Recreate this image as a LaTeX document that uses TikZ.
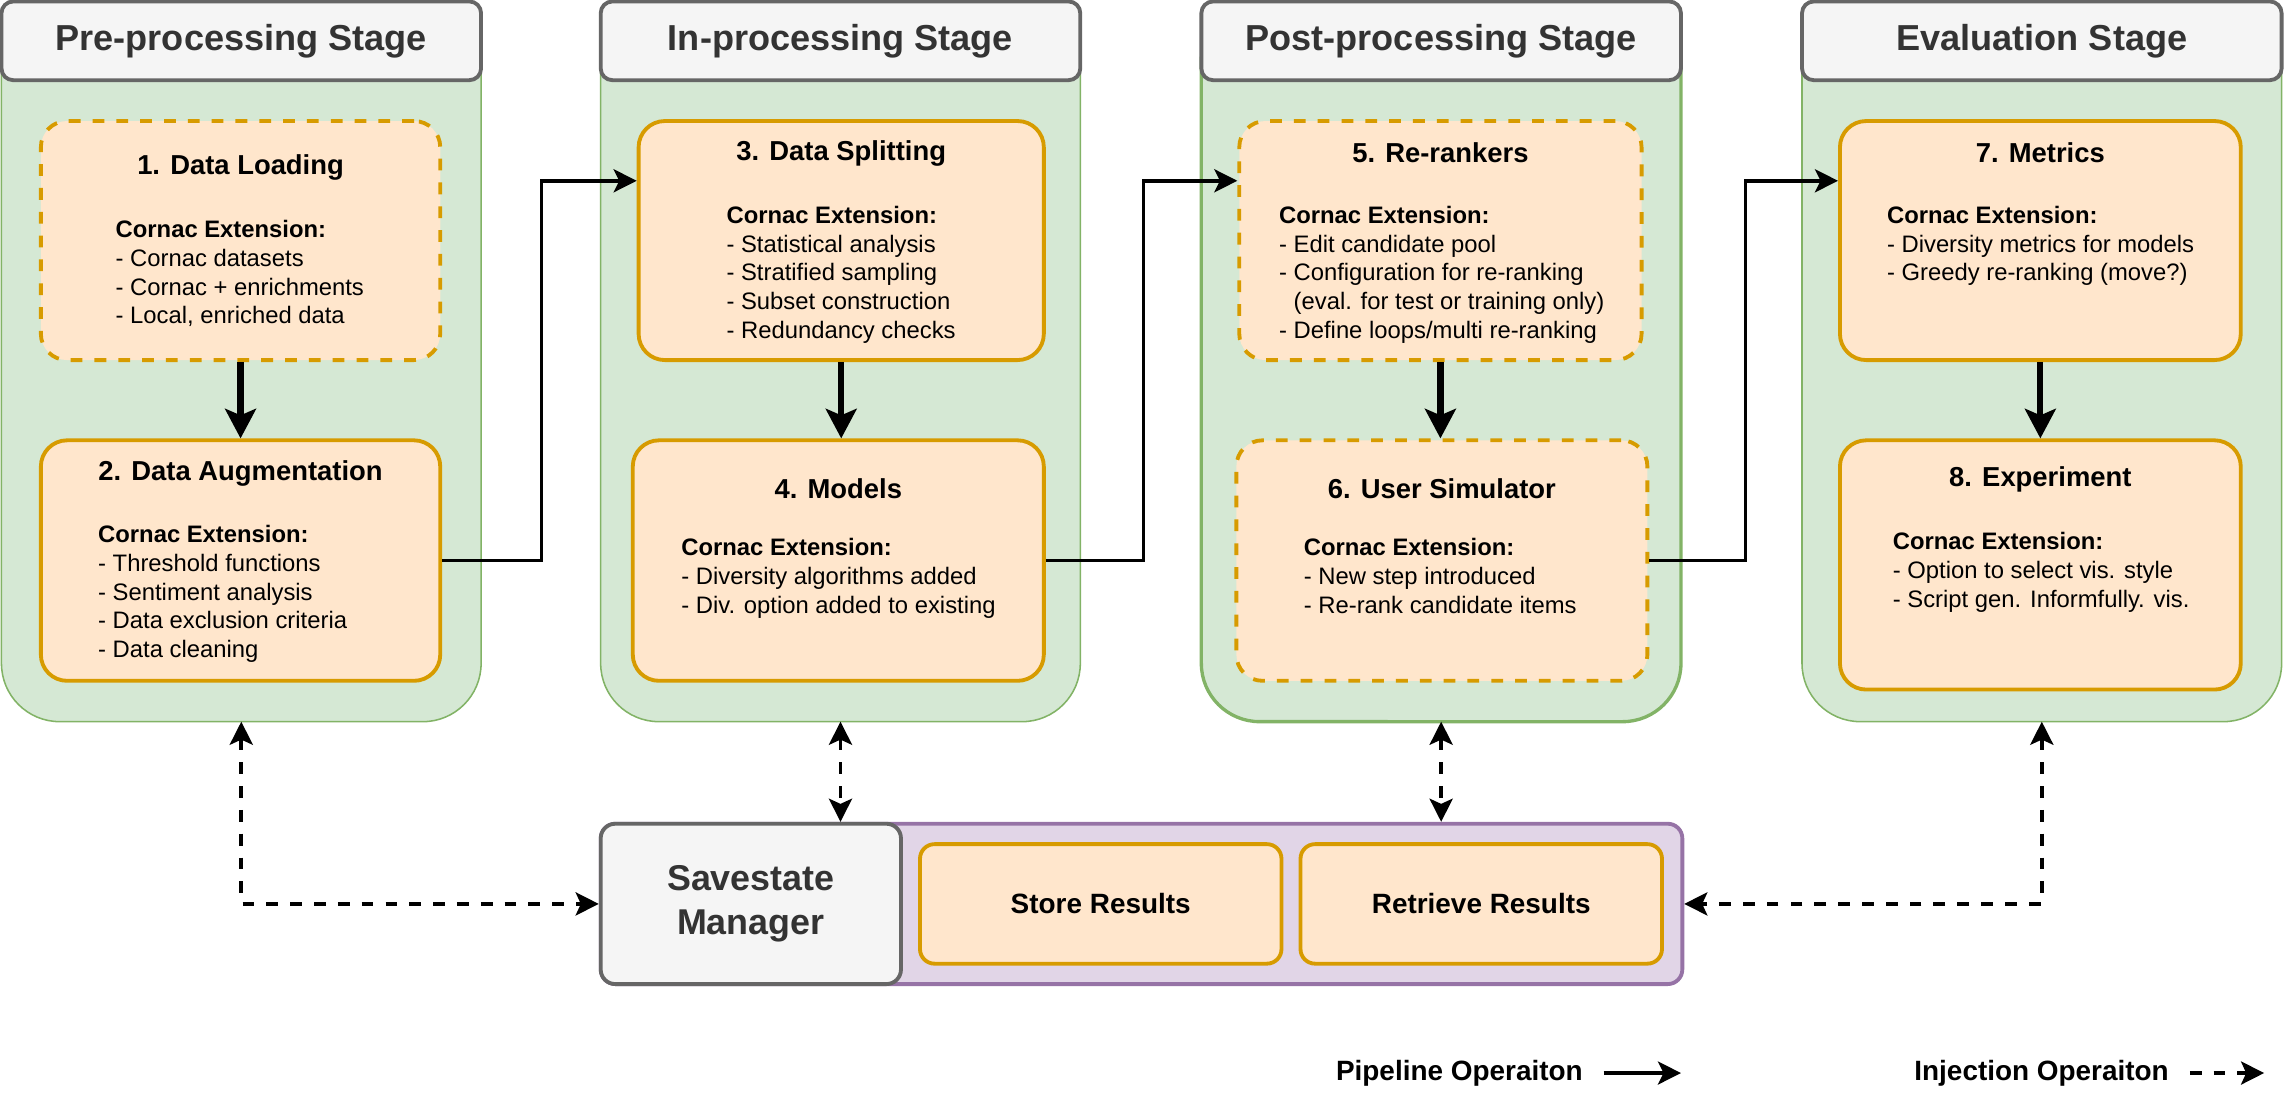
\documentclass[tikz,border=0pt]{standalone}
\usepackage{fontspec}
\setmainfont{Liberation Sans}
\usetikzlibrary{arrows.meta,calc}

\definecolor{stagefill}{HTML}{D5E8D4}
\definecolor{stageline}{HTML}{82B366}
\definecolor{headfill}{HTML}{F5F5F5}
\definecolor{headline}{HTML}{666666}
\definecolor{headtext}{HTML}{333333}
\definecolor{boxfill}{HTML}{FFE6CC}
\definecolor{boxline}{HTML}{D79B00}
\definecolor{savefill}{HTML}{E1D5E7}
\definecolor{saveline}{HTML}{9673A6}

\begin{document}
\begin{tikzpicture}[x=0.02cm,y=-0.02cm,
  stagebody/.style={fill=stagefill,draw=stageline},
  stagehead/.style={draw=headline,fill=headfill,text=headtext,line width=1.5pt,rounded corners=0.16cm,minimum width=6.58cm,minimum height=1.08cm,font=\bfseries\fontsize{14.1}{17}\selectfont},
  stepbox/.style={draw=boxline,fill=boxfill,line width=1.5pt,rounded corners=0.36cm},
  optbox/.style={stepbox,dash pattern=on 4.6pt off 4.7pt},
  steptitle/.style={font=\bfseries\fontsize{10.7}{13}\selectfont},
  steptext/.style={anchor=north west,inner sep=0pt,align=left,font=\fontsize{9.3}{11.2}\selectfont},
  pipe/.style={-{Stealth[length=9pt,width=9pt,inset=2.2pt]},line width=1.4pt},
  bigpipe/.style={-{Stealth[length=11.5pt,width=12pt,inset=2.5pt]},line width=2.4pt},
  inject/.style={{Stealth[length=9pt,width=9pt,inset=2pt]}-{Stealth[length=9pt,width=9pt,inset=2pt]},line width=1.5pt,dash pattern=on 4.6pt off 4.7pt},
  legendinject/.style={-{Stealth[length=9pt,width=9pt,inset=2pt]},line width=1.5pt,dash pattern=on 4.6pt off 4.7pt},
  legendtxt/.style={anchor=east,inner xsep=8pt,font=\bfseries\fontsize{10.9}{13}\selectfont}
]
\useasboundingbox (0,0) rectangle (1568,757);

% stages
\foreach \l/\n/\lw/\txt in {1/1/0.6pt/Pre-processing Stage,412/2/0.6pt/In-processing Stage,824/3/1.3pt/Post-processing Stage,1236/4/0.6pt/Evaluation Stage}{
  \draw[stagebody,line width=\lw] (\l,40) -- (\l,455) arc[start angle=180,end angle=270,radius=0.8cm] -- (\l+289,495) arc[start angle=270,end angle=360,radius=0.8cm] -- (\l+329,40) -- cycle;
  \coordinate (g\n) at (\l+164.5,495);
  \node[stagehead] (h\n) at (\l+164.5,28) {\txt};
}

% steps
\node[optbox,minimum width=5.48cm,minimum height=3.28cm] (b1) at (165,165) {};
\node[stepbox,minimum width=5.48cm,minimum height=3.3cm] (b2) at (165,384.5) {};
\node[stepbox,minimum width=5.56cm,minimum height=3.28cm] (b3) at (577,165) {};
\node[stepbox,minimum width=5.64cm,minimum height=3.3cm] (b4) at (575,384.5) {};
\node[optbox,minimum width=5.52cm,minimum height=3.28cm] (b5) at (988,165) {};
\node[optbox,minimum width=5.64cm,minimum height=3.3cm] (b6) at (989,384.5) {};
\node[stepbox,minimum width=5.5cm,minimum height=3.28cm] (b7) at (1399.5,165) {};
\node[stepbox,minimum width=5.5cm,minimum height=3.42cm] (b8) at (1399.5,387.5) {};

\node[steptitle] (t1) at (165,115) {1. Data Loading};
\node[steptitle] (t2) at (165,325) {2. Data Augmentation};
\node[steptitle] (t3) at (577,105) {3. Data Splitting};
\node[steptitle] (t4) at (575,335) {4. Models};
\node[steptitle] (t5) at (988,105) {5. Re-rankers};
\node[steptitle] (t6) at (989,335) {6. User Simulator};
\node[steptitle] (t7) at (1399.5,105) {7. Metrics};
\node[steptitle] (t8) at (1399.5,329) {8. Experiment};

\node[steptext] (c1) at (79,151) {\textbf{Cornac Extension:}\\- Cornac datasets\\- Cornac + enrichments\\- Local, enriched data};
\node[steptext] (c2) at (67,360) {\textbf{Cornac Extension:}\\- Threshold functions\\- Sentiment analysis\\- Data exclusion criteria\\- Data cleaning};
\node[steptext] (c3) at (498,141) {\textbf{Cornac Extension:}\\- Statistical analysis\\- Stratified sampling\\- Subset construction\\- Redundancy checks};
\node[steptext] (c4) at (467,369) {\textbf{Cornac Extension:}\\- Diversity algorithms added\\- Div. option added to existing};
\node[steptext] (c5) at (877,141) {\textbf{Cornac Extension:}\\- Edit candidate pool\\- Configuration for re-ranking\\\hphantom{-}\ (eval. for test or training only)\\- Define loops/multi re-ranking};
\node[steptext] (c6) at (894,369) {\textbf{Cornac Extension:}\\- New step introduced\\- Re-rank candidate items};
\node[steptext] (c7) at (1294,141) {\textbf{Cornac Extension:}\\- Diversity metrics for models\\- Greedy re-ranking (move?)};
\node[steptext] (c8) at (1298,365) {\textbf{Cornac Extension:}\\- Option to select vis. style\\- Script gen. Informfully. vis.};

% pipeline
\draw[bigpipe] (b1.south) -- (b1.south |- b2.north);
\draw[bigpipe] (b3.south) -- (b3.south |- b4.north);
\draw[bigpipe] (b5.south) -- (b5.south |- b6.north);
\draw[bigpipe] (b7.south) -- (b7.south |- b8.north);
\draw[pipe] (b2.east) -- ++(68,0) |- ([yshift=0.82cm]b3.west);
\draw[pipe] (b4.east) -- ++(67,0) |- ([yshift=0.82cm]b5.west);
\draw[pipe] (b6.east) -- ++(66,0) |- ([yshift=0.82cm]b7.west);

% savestate
\node[draw=saveline,fill=savefill,line width=1.5pt,rounded corners=0.2cm,minimum width=14.84cm,minimum height=2.2cm] (saves) at (783,620) {};
\node[draw=headline,fill=headfill,text=headtext,line width=1.5pt,rounded corners=0.2cm,minimum width=4.12cm,minimum height=2.2cm,align=center,font=\bfseries\fontsize{14}{17}\selectfont] (ssm) at (515,620) {Savestate\\Manager};
\node[stepbox,rounded corners=0.2cm,minimum width=4.96cm,minimum height=1.64cm,font=\bfseries\fontsize{10.9}{13}\selectfont] (sr) at (755,620) {Store Results};
\node[stepbox,rounded corners=0.2cm,minimum width=4.96cm,minimum height=1.64cm,font=\bfseries\fontsize{10.9}{13}\selectfont] (rr) at (1016,620) {Retrieve Results};

\draw[inject] (g1) |- (ssm.west);
\draw[inject] (g2) -- (g2 |- ssm.north);
\draw[inject] (g3) -- (g3 |- saves.north);
\draw[inject] (g4) |- (saves.east);

% legend
\node[legendtxt] (lgpipe) at (1100,736) {Pipeline Operaiton};
\coordinate (lgpipeend) at (1153,736);
\draw[pipe] (lgpipe.east) -- (lgpipeend);
\node[legendtxt] (lginj) at (1502,736) {Injection Operaiton};
\coordinate (lginjend) at (1553,736);
\draw[legendinject] (lginj.east) -- (lginjend);
\end{tikzpicture}
\end{document}
